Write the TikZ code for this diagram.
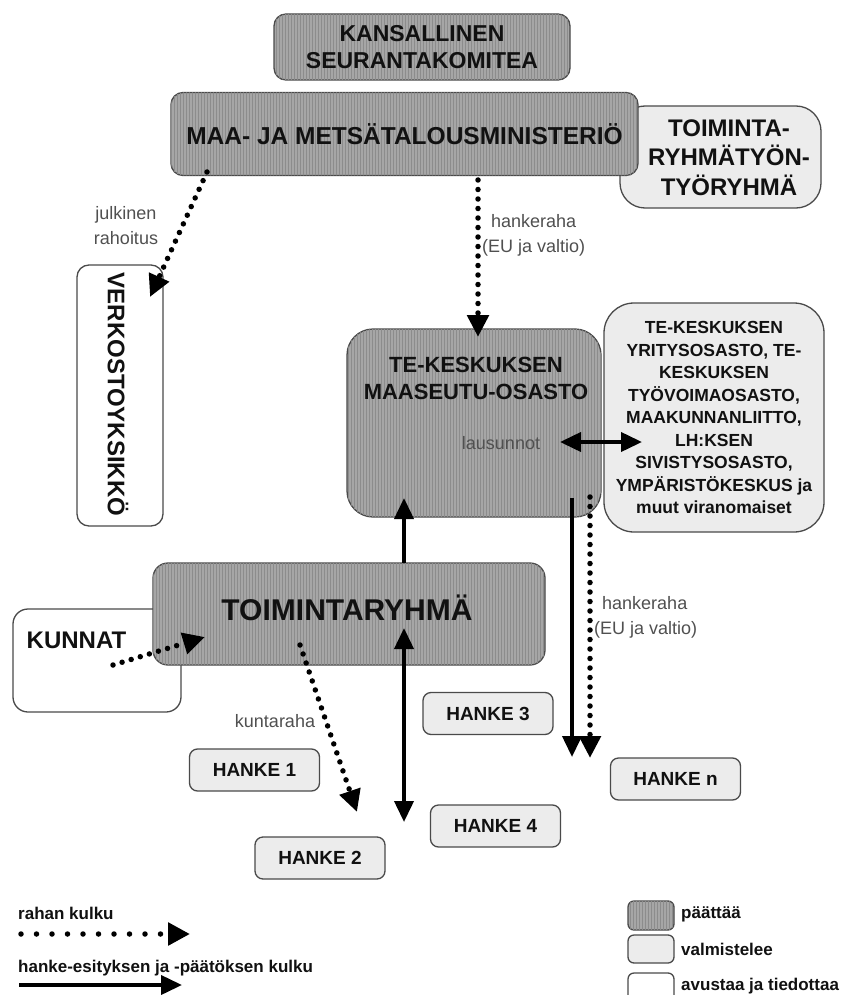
\documentclass[tikz,border=0pt]{standalone}
\usepackage{fontspec}
\setmainfont{Liberation Sans}
\usetikzlibrary{arrows.meta,patterns}
\definecolor{dk}{HTML}{A6A6A6}
\definecolor{dkline}{HTML}{8C8C8C}
\definecolor{lt}{HTML}{ECECEC}
\definecolor{bd}{HTML}{4A4A4A}
\definecolor{lbltxt}{HTML}{505050}
\definecolor{txt}{HTML}{111111}
\tikzset{
 base/.style={draw=bd, line width=1.3pt, inner sep=0pt, text=txt, align=center},
 dkbox/.style={base, fill=dk, postaction={pattern=vertical lines, pattern color=dkline}},
 ltbox/.style={base, fill=lt},
 whbox/.style={base, fill=white},
 sz/.style 2 args={minimum width=#1pt, minimum height=#2pt},
 rc/.style={rounded corners=#1pt},
 bt/.style 2 args={font=\bfseries\fontsize{#1}{#2}\selectfont, text=txt, align=center, inner sep=0pt},
 money/.style={line width=5.5pt, dash pattern=on 0pt off 9.5pt, line cap=round, -{Triangle[length=22pt,width=21pt]}},
 moneylg/.style={line width=5.5pt, dash pattern=on 0pt off 15.5pt, line cap=round, -{Triangle[length=22pt,width=22pt]}},
 flow/.style={line width=3.8pt, -{Triangle[length=21pt,width=19pt]}},
 flowtwo/.style={line width=3.8pt, {Triangle[length=21pt,width=19pt]}-{Triangle[length=21pt,width=19pt]}},
 lbl/.style={text=lbltxt, font=\fontsize{18}{25}\selectfont, inner sep=0pt},
}
\begin{document}
\begin{tikzpicture}[x=1pt,y=-1pt]
\fill[white] (0,0) rectangle (842,995);
\useasboundingbox (0,0) rectangle (842,995);

% top boxes
\node[ltbox, rc=25, sz={201}{102}] (trt) at (720.5,157) {};
\node[bt={24}{29.5}] (trtt) at (729,157.5) {TOIMINTA-\\RYHMÄTYÖN-\\TYÖRYHMÄ};
\node[dkbox, rc=12, sz={296}{66}, bt={23}{27}] (ksk) at (422,47) {KANSALLINEN\\SEURANTAKOMITEA};
\node[dkbox, rc=12, sz={467}{83}, bt={24.5}{28}] (mmm) at (404.5,134) {MAA- JA METSÄTALOUSMINISTERIÖ};

% verkostoyksikko
\node[whbox, rc=12, sz={86}{261}] (verk) at (120,395.5) {};
\node[bt={24}{28}, rotate=-90] (verkt) at (118,394.5) {VERKOSTOYKSIKKÖ};

% TE boxes
\node[dkbox, rc=26, sz={254}{188}] (te) at (474,423) {};
\node[bt={22}{27}] (tet) at (476,378.5) {TE-KESKUKSEN\\MAASEUTU-OSASTO};
\node[lbl] (laus) at (501,443) {lausunnot};
\node[ltbox, rc=30, sz={220}{229}, bt={17.5}{22.5}] (muut) at (714,417.5) {TE-KESKUKSEN\\YRITYSOSASTO, TE-\\KESKUKSEN\\TYÖVOIMAOSASTO,\\MAAKUNNANLIITTO,\\LH:KSEN\\SIVISTYSOSASTO,\\YMPÄRISTÖKESKUS ja\\muut viranomaiset};

% Kunnat + Toimintaryhma
\node[whbox, rc=15, sz={168}{103}] (kun) at (97,660.5) {};
\node[bt={24}{28}] (kunt) at (76.5,640) {KUNNAT};
\node[dkbox, rc=15, sz={392}{102}] (tr) at (349,614) {};
\node[bt={30}{34}] (trtxt) at (347,608) {TOIMINTARYHMÄ};

% Hanke boxes
\node[ltbox, rc=8, sz={130}{42}, bt={19}{22}] (h1) at (254.5,770) {HANKE 1};
\node[ltbox, rc=8, sz={130}{42}, bt={19}{22}] (h2) at (320,858) {HANKE 2};
\node[ltbox, rc=8, sz={130}{42}, bt={19}{22}] (h3) at (488,713.5) {HANKE 3};
\node[ltbox, rc=8, sz={130}{42}, bt={19}{22}] (h4) at (495.5,826) {HANKE 4};
\node[ltbox, rc=8, sz={130}{42}, bt={19}{22}] (hn) at (675.5,779) {HANKE n};

% connector end points
\coordinate (a1s) at (207,172);
\coordinate (a1e) at (150,297);
\coordinate (a2s) at (478,180);
\coordinate (a2e) at (478,337);
\coordinate (a3s) at (560,442);
\coordinate (a3e) at (642,442);
\coordinate (a4s) at (404,563);
\coordinate (a4e) at (404,498);
\coordinate (a5s) at (572,498);
\coordinate (a5e) at (572,757);
\coordinate (a6s) at (590,497);
\coordinate (a6e) at (590,758);
\coordinate (a7s) at (404,628);
\coordinate (a7e) at (404,822);
\coordinate (a8s) at (300,645);
\coordinate (a8e) at (357,812);
\coordinate (a9s) at (113,665);
\coordinate (a9e) at (205,637);

% connectors
\draw[money] (a1s) -- (a1e);
\draw[money] (a2s) -- (a2e);
\draw[flowtwo] (a3s) -- (a3e);
\draw[flow] (a4s) -- (a4e);
\draw[flow] (a5s) -- (a5e);
\draw[money] (a6s) -- (a6e);
\draw[flowtwo] (a7s) -- (a7e);
\draw[money] (a8s) -- (a8e);
\draw[money] (a9s) -- (a9e);

% labels
\node[lbl, align=center] (l1) at (126,225.5) {julkinen\\rahoitus};
\node[lbl, align=left, anchor=west] (l2) at (482,235.5) {\hspace*{9pt}hankeraha\\(EU ja valtio)};
\node[lbl, align=left, anchor=west] (l3) at (594,617.5) {\hspace*{8pt}hankeraha\\(EU ja valtio)};
\node[lbl] (l4) at (275,721) {kuntaraha};

% legend
\node[bt={17}{20}, anchor=west] (lg1) at (18,913) {rahan kulku};
\coordinate (lg1a) at (21,934);
\coordinate (lg1b) at (190,934);
\draw[moneylg] (lg1a) -- (lg1b);
\node[bt={17}{20}, anchor=west] (lg2) at (18,968) {hanke-esityksen ja -päätöksen kulku};
\coordinate (lg2a) at (19,985);
\coordinate (lg2b) at (182,985);
\draw[flow] (lg2a) -- (lg2b);

\node[dkbox, rc=6, sz={46}{29}] (k1) at (651,915.5) {};
\node[ltbox, rc=6, sz={46}{28}] (k2) at (651,949) {};
\node[whbox, rc=6, sz={46}{28}] (k3) at (651,987) {};
\node[bt={17}{20}, anchor=west] (k1t) at (681,914) {päättää};
\node[bt={17}{20}, anchor=west] (k2t) at (681,949) {valmistelee};
\node[bt={17}{20}, anchor=west] (k3t) at (681,986) {avustaa ja tiedottaa};
\end{tikzpicture}
\end{document}
